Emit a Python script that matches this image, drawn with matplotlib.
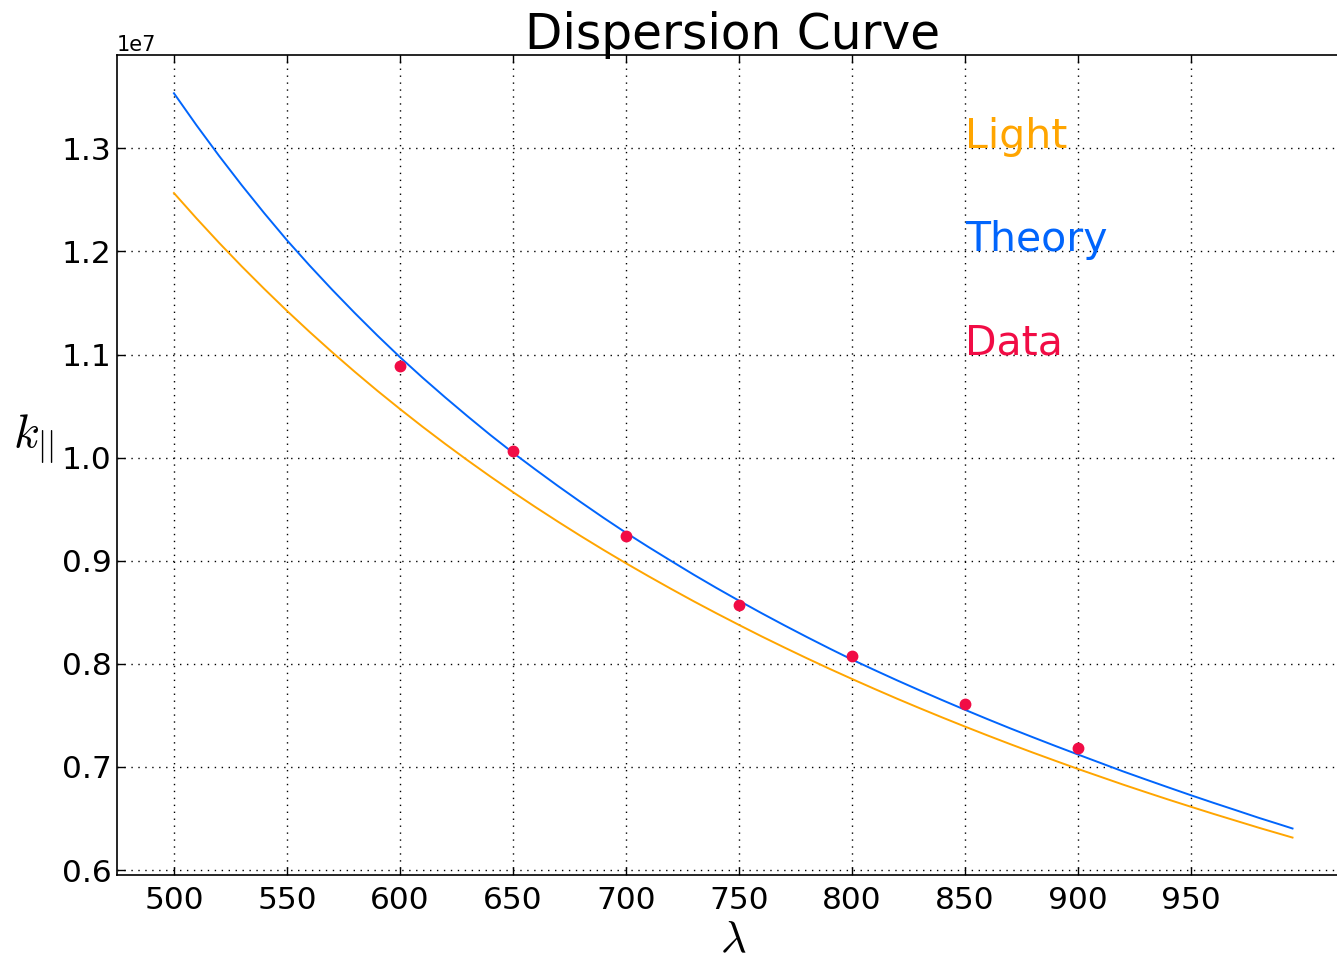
import matplotlib
matplotlib.use("Agg")
import matplotlib.pyplot as plt

# wavelength grid (nm) for the curves
wavelength = [500, 510, 520, 530, 540, 550, 560, 570, 580, 590,
              600, 610, 620, 630, 640, 650, 660, 670, 680, 690,
              700, 710, 720, 730, 740, 750, 760, 770, 780, 790,
              800, 810, 820, 830, 840, 850, 860, 870, 880, 890,
              900, 910, 920, 930, 940, 950, 960, 970, 980, 990, 995]
# light line k (in 1e7 m^-1)
light_k = [1.2566, 1.2320, 1.2083, 1.1855, 1.1636, 1.1424, 1.1220, 1.1023, 1.0833, 1.0649,
           1.0472, 1.0300, 1.0134, 0.9973, 0.9817, 0.9666, 0.9520, 0.9378, 0.9240, 0.9106,
           0.8976, 0.8850, 0.8727, 0.8607, 0.8491, 0.8378, 0.8267, 0.8160, 0.8055, 0.7953,
           0.7854, 0.7757, 0.7662, 0.7570, 0.7480, 0.7392, 0.7306, 0.7222, 0.7140, 0.7060,
           0.6981, 0.6905, 0.6829, 0.6756, 0.6684, 0.6614, 0.6545, 0.6478, 0.6411, 0.6347, 0.6315]
# theory curve k (in 1e7 m^-1)
theory_k = [1.3534, 1.3223, 1.2926, 1.2642, 1.2370, 1.2109, 1.1864, 1.1629, 1.1403, 1.1185,
            1.0975, 1.0776, 1.0585, 1.0400, 1.0220, 1.0048, 0.9884, 0.9724, 0.9569, 0.9418,
            0.9272, 0.9133, 0.8998, 0.8865, 0.8737, 0.8613, 0.8492, 0.8375, 0.8261, 0.8150,
            0.8042, 0.7940, 0.7840, 0.7743, 0.7648, 0.7555, 0.7464, 0.7375, 0.7289, 0.7204,
            0.7121, 0.7039, 0.6957, 0.6879, 0.6802, 0.6726, 0.6652, 0.6580, 0.6507, 0.6438, 0.6403]
# measured data
data_wl = [600, 650, 700, 750, 800, 850, 900]
data_k = [1.0886, 1.0061, 0.9237, 0.8567, 0.8073, 0.7607, 0.7184]

xticks = [500, 550, 600, 650, 700, 750, 800, 850, 900, 950]
yticks = [0.6, 0.7, 0.8, 0.9, 1.0, 1.1, 1.2, 1.3]

c_light = "#ffa500"
c_theory = "#0165fc"
c_data = "#f10c45"

plt.rcParams["mathtext.fontset"] = "cm"
plt.rcParams["font.family"] = "DejaVu Sans"

fig = plt.figure(figsize=(13.37, 9.6), dpi=100, facecolor="white")
ax = fig.add_axes([117 / 1337, 85 / 960, 1232 / 1337, 820 / 960])

scale = 1e7
ax.plot(wavelength, [v * scale for v in light_k], color=c_light, lw=1.4)
ax.plot(wavelength, [v * scale for v in theory_k], color=c_theory, lw=1.4)
ax.plot(data_wl, [v * scale for v in data_k], "o", color=c_data, mec=c_data,
        ms=7.5, zorder=3)

ax.text(850, 1.3e7, "Light", color=c_light, fontsize=29.5)
ax.text(850, 1.2e7, "Theory", color=c_theory, fontsize=29.5)
ax.text(850, 1.1e7, "Data", color=c_data, fontsize=29.5)

ax.set_xlim(474.8, 1020.0)
ax.set_ylim(0.5952e7, 1.3905e7)
ax.set_xticks(xticks)
ax.set_yticks([v * scale for v in yticks])
ax.ticklabel_format(axis="y", style="sci", scilimits=(0, 0))
ax.yaxis.get_offset_text().set_fontsize(15)

ax.grid(True, color="black", linestyle=(0, (1, 4)), linewidth=1.0)
ax.tick_params(direction="in", top=True, right=True, length=6, width=1,
               labelsize=22.5)
ax.tick_params(axis="x", pad=8)
ax.tick_params(axis="y", pad=4)
for s in ax.spines.values():
    s.set_linewidth(1.2)

ax.set_title("Dispersion Curve", fontsize=35, pad=4)
ax.set_xlabel(r"$\lambda$", fontsize=32, labelpad=2)
ax.set_ylabel(r"$k_{||}$", fontsize=34, rotation=0, labelpad=20)

fig.savefig("out.png", dpi=100, facecolor="white")
